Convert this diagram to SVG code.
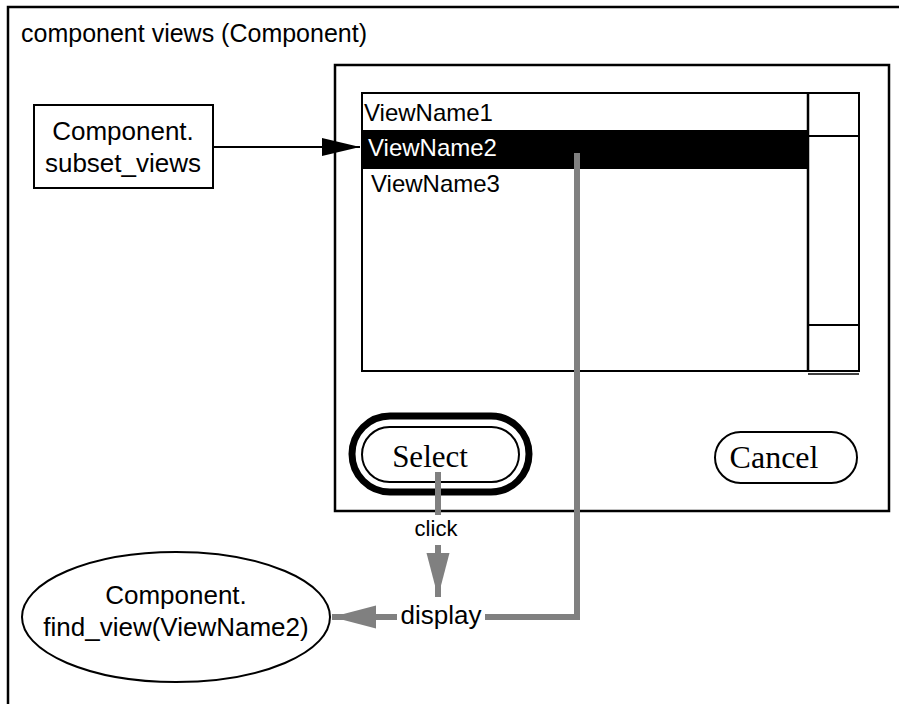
<svg xmlns="http://www.w3.org/2000/svg" width="899" height="704" viewBox="0 0 899 704">
<defs>
<style>
.sans{font-family:"Liberation Sans",Arial,Helvetica,sans-serif;fill:#000}
.serif{font-family:"Liberation Serif","Times New Roman",serif;fill:#000}
.blk{fill:none;stroke:#000;stroke-width:2}
.gray{fill:none;stroke:#808080;stroke-width:6}
</style>
<marker id="blackArrow" markerUnits="userSpaceOnUse" markerWidth="40" markerHeight="20" refX="38" refY="10" orient="auto">
<path d="M0,1 L38,10 L0,19 Z" fill="#000"/>
</marker>
<marker id="grayArrow" markerUnits="userSpaceOnUse" markerWidth="46" markerHeight="26" refX="44" refY="12" orient="auto">
<path d="M0,0.5 L44,12 L0,23.5 Z" fill="#808080"/>
</marker>
</defs>
<rect width="899" height="704" fill="#fff"/>
<g id="frame">
<path d="M8,704 V7 H899" class="blk" style="stroke-width:2.5"/>
<text x="21" y="42" class="sans" font-size="25">component views (Component)</text>
</g>
<g id="dialog">
<rect x="335" y="65" width="554" height="446" class="blk" style="stroke-width:2.5"/>
</g>
<g id="listbox">
<rect x="362" y="130" width="446" height="39" fill="#000"/>
<rect x="362" y="93" width="497" height="278" class="blk"/>
<line x1="808" y1="93" x2="808" y2="371" stroke="#000" stroke-width="2.5"/>
<line x1="808" y1="136" x2="859" y2="136" stroke="#000" stroke-width="2"/>
<line x1="808" y1="325" x2="859" y2="325" stroke="#000" stroke-width="2"/>
<line x1="808" y1="374" x2="859" y2="374" stroke="#000" stroke-width="1.5"/>
<text x="364" y="121" class="sans" font-size="24">ViewName1</text>
<text x="368" y="156" class="sans" font-size="24" style="fill:#fff">ViewName2</text>
<text x="371" y="192" class="sans" font-size="24">ViewName3</text>
</g>
<g id="subset_views">
<rect x="34" y="105" width="179" height="83" class="blk"/>
<text x="123" y="140" class="sans" font-size="26" text-anchor="middle">Component.</text>
<text x="123" y="172" class="sans" font-size="26" text-anchor="middle">subset_views</text>
</g>
<g id="select">
<rect x="352" y="416" width="177" height="76" rx="38" class="blk" style="stroke-width:7"/>
<rect x="362" y="427" width="157" height="55" rx="27.5" class="blk"/>
<text x="430" y="467" class="serif" font-size="31" text-anchor="middle">Select</text>
</g>
<g id="cancel">
<rect x="715" y="432" width="142" height="51" rx="25.5" class="blk"/>
<text x="774" y="468" class="serif" font-size="32" text-anchor="middle">Cancel</text>
</g>
<g id="find_view">
<ellipse cx="176" cy="617" rx="154" ry="65" class="blk"/>
<text x="176" y="604" class="sans" font-size="26" text-anchor="middle">Component.</text>
<text x="176" y="636" class="sans" font-size="26" text-anchor="middle">find_view(ViewName2)</text>
</g>
<g id="connectors">
<line x1="213" y1="147" x2="360" y2="147" stroke="#000" stroke-width="2" marker-end="url(#blackArrow)"/>
<line x1="438" y1="472" x2="438" y2="515" class="gray"/>
<line x1="438" y1="545" x2="438" y2="597" class="gray" marker-end="url(#grayArrow)"/>
<path d="M577,153 V617 H485" class="gray"/>
<line x1="397" y1="617" x2="332" y2="617" class="gray" marker-end="url(#grayArrow)"/>
<text x="436" y="536" class="sans" font-size="22" text-anchor="middle">click</text>
<text x="441" y="624" class="sans" font-size="26" text-anchor="middle">display</text>
</g>
</svg>
